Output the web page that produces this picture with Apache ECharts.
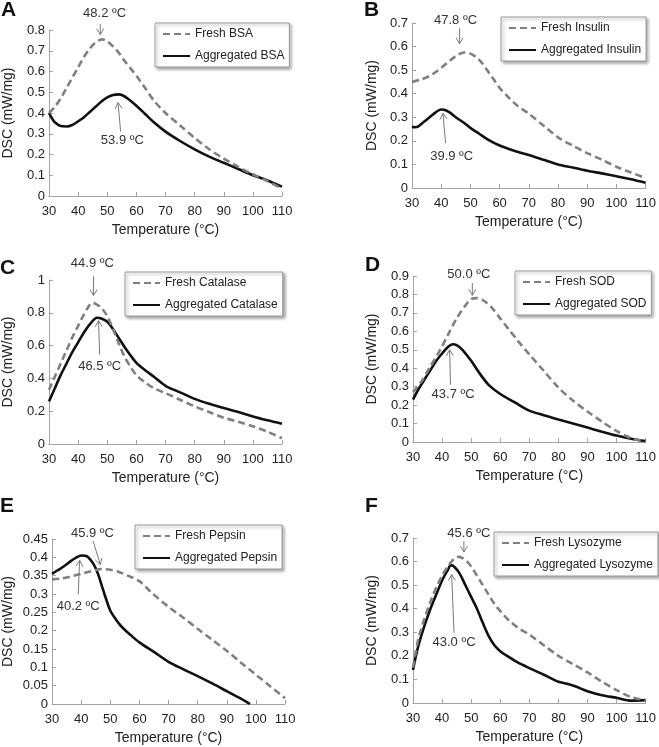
<!DOCTYPE html>
<html>
<head>
<meta charset="utf-8">
<script src="https://cdn.jsdelivr.net/npm/echarts@6/dist/echarts.min.js"></script>
<style>
html,body{margin:0;padding:0;background:#fff;}
#chart{width:659px;height:747px;}
</style>
</head>
<body>
<div id="chart"></div>
<script>
// ---------- DATA ----------
const panelLetters = ['A', 'B', 'C', 'D', 'E', 'F'];
const xTicks = [30, 40, 50, 60, 70, 80, 90, 100, 110];
const yMaxes = [0.8, 0.7, 1.0, 0.9, 0.45, 0.7];
const yIntervals = [0.1, 0.1, 0.2, 0.1, 0.05, 0.1];

// A: BSA
const bsaFreshT = [30,32,34,36,38,40,42,44,46,48.2,50,52,54,56,58,60,63,66,70,75,80,85,90,95,100,105,110];
const bsaFreshV = [0.40,0.43,0.47,0.52,0.57,0.62,0.67,0.71,0.74,0.755,0.745,0.72,0.69,0.65,0.615,0.58,0.52,0.46,0.40,0.34,0.28,0.225,0.18,0.14,0.105,0.072,0.035];
const bsaAggT = [30,31,32,34,36,38,40,42,44,46,48,50,52,53.9,55,57,60,63,66,70,75,80,85,90,95,100,105,110];
const bsaAggV = [0.40,0.375,0.355,0.337,0.335,0.342,0.36,0.38,0.405,0.43,0.455,0.475,0.487,0.49,0.487,0.47,0.435,0.395,0.355,0.31,0.265,0.225,0.19,0.16,0.13,0.10,0.075,0.045];

// B: Insulin
const insFreshT = [30,33,36,39,42,45,47.8,50,52,54,56,58,60,63,66,70,75,80,85,90,95,100,105,110];
const insFreshV = [0.45,0.46,0.475,0.50,0.53,0.56,0.575,0.57,0.555,0.53,0.495,0.46,0.425,0.385,0.35,0.315,0.265,0.215,0.18,0.148,0.12,0.09,0.066,0.042];
const insAggT = [30,31,32,34,36,38,39.9,41,43,45,48,50,53,56,60,65,70,75,80,85,90,95,100,105,110];
const insAggV = [0.26,0.258,0.26,0.28,0.30,0.32,0.333,0.332,0.32,0.30,0.275,0.255,0.23,0.205,0.18,0.158,0.14,0.12,0.10,0.087,0.073,0.062,0.05,0.037,0.022];

// C: Catalase
const catFreshT = [30,32,34,36,38,40,42,44.9,46,48,50,52,54,56,58,60,63,66,70,75,80,85,90,95,100,105,110];
const catFreshV = [0.33,0.41,0.49,0.57,0.65,0.72,0.79,0.86,0.855,0.83,0.78,0.70,0.61,0.53,0.47,0.42,0.375,0.34,0.31,0.27,0.23,0.195,0.16,0.135,0.108,0.075,0.035];
const catAggT = [30,32,34,36,38,40,42,44,46.5,48,50,52,54,56,58,60,63,66,70,75,80,85,90,95,100,105,110];
const catAggV = [0.26,0.34,0.42,0.49,0.56,0.62,0.68,0.73,0.77,0.765,0.745,0.70,0.645,0.59,0.54,0.495,0.45,0.41,0.355,0.315,0.275,0.245,0.22,0.195,0.168,0.145,0.124];

// D: SOD
const sodFreshT = [30,33,36,39,42,45,48,50,52,54,57,60,63,66,70,75,80,85,90,95,100,103,106,110];
const sodFreshV = [0.27,0.33,0.41,0.49,0.58,0.67,0.74,0.775,0.78,0.77,0.73,0.67,0.61,0.55,0.475,0.385,0.295,0.225,0.165,0.11,0.06,0.035,0.015,0.005];
const sodAggT = [30,32,34,36,38,40,42,43.7,45,47,50,53,56,60,65,70,75,80,85,90,95,100,105,110];
const sodAggV = [0.23,0.29,0.34,0.39,0.44,0.48,0.515,0.53,0.525,0.50,0.44,0.37,0.31,0.26,0.215,0.17,0.145,0.122,0.10,0.078,0.056,0.035,0.018,0.005];

// E: Pepsin
const pepFreshT = [30,33,36,40,44,47,50,53,56,60,64,70,75,80,85,90,95,100,105,110];
const pepFreshV = [0.34,0.342,0.347,0.355,0.363,0.368,0.366,0.36,0.35,0.335,0.305,0.265,0.236,0.205,0.175,0.145,0.112,0.08,0.048,0.016];
const pepAggT = [30,32,34,36,38,40.2,42,43,44,45,46,47,48,50,52,54,57,60,65,70,75,80,85,90,95,98];
const pepAggV = [0.355,0.365,0.375,0.387,0.398,0.405,0.403,0.395,0.385,0.37,0.35,0.325,0.30,0.255,0.23,0.21,0.188,0.168,0.142,0.115,0.095,0.076,0.056,0.035,0.014,0.0];

// F: Lysozyme
const lysFreshT = [30,31,32,34,36,38,40,42,44,45.6,47,49,51,53,55,58,60,63,66,70,75,80,85,90,95,100,105,110];
const lysFreshV = [0.15,0.22,0.28,0.36,0.43,0.49,0.54,0.58,0.61,0.62,0.615,0.595,0.56,0.52,0.48,0.42,0.39,0.35,0.32,0.29,0.245,0.20,0.165,0.13,0.09,0.055,0.025,0.012];
const lysAggT = [30,31,32,34,36,38,40,42,43,44,46,48,50,52,54,56,58,60,63,66,70,75,80,83,86,90,95,100,105,110];
const lysAggV = [0.14,0.20,0.25,0.33,0.40,0.46,0.52,0.565,0.585,0.58,0.55,0.50,0.45,0.40,0.34,0.285,0.245,0.22,0.195,0.172,0.148,0.12,0.09,0.082,0.07,0.05,0.033,0.022,0.01,0.012];

const seriesNames = [
  ['Fresh BSA', 'Aggregated BSA'],
  ['Fresh Insulin', 'Aggregated Insulin'],
  ['Fresh Catalase', 'Aggregated Catalase'],
  ['Fresh SOD', 'Aggregated SOD'],
  ['Fresh Pepsin', 'Aggregated Pepsin'],
  ['Fresh Lysozyme', 'Aggregated Lysozyme']
];
const seriesData = [
  [[bsaFreshT, bsaFreshV], [bsaAggT, bsaAggV]],
  [[insFreshT, insFreshV], [insAggT, insAggV]],
  [[catFreshT, catFreshV], [catAggT, catAggV]],
  [[sodFreshT, sodFreshV], [sodAggT, sodAggV]],
  [[pepFreshT, pepFreshV], [pepAggT, pepAggV]],
  [[lysFreshT, lysFreshV], [lysAggT, lysAggV]]
];

// Peak annotations (data coordinates): panel, label, label pos, arrow from, arrow to
const annotations = [
  [0, '48.2 ºC', 49.1, 0.880, 47.6, 0.829, 47.6, 0.778],
  [0, '53.9 ºC', 55.2, 0.270, 54.6, 0.310, 53.7, 0.450],
  [1, '47.8 ºC', 44.9, 0.710, 46.3, 0.678, 46.3, 0.612],
  [1, '39.9 ºC', 43.6, 0.133, 41.5, 0.190, 40.6, 0.317],
  [2, '44.9 ºC', 44.9, 1.104, 45.3, 1.023, 45.3, 0.905],
  [2, '46.5 ºC', 47.4, 0.474, 47.4, 0.545, 47.0, 0.752],
  [3, '50.0 ºC', 49.2, 0.907, 50.4, 0.862, 50.4, 0.795],
  [3, '43.7 ºC', 43.8, 0.257, 42.9, 0.311, 42.6, 0.500],
  [4, '45.9 ºC', 43.9, 0.466, 44.1, 0.445, 46.6, 0.380],
  [4, '40.2 ºC', 39.0, 0.267, 39.0, 0.299, 39.5, 0.392],
  [5, '45.6 ºC', 49.2, 0.720, 47.5, 0.687, 47.5, 0.640],
  [5, '43.0 ºC', 44.1, 0.256, 44.1, 0.298, 43.3, 0.545]
];

// ---------- LAYOUT / STYLE ----------
const FONT = '"Liberation Sans", Arial, sans-serif';
const gridRects = [
  {left: 48, top: 30, width: 234, height: 166},
  {left: 412, top: 23, width: 234, height: 165},
  {left: 48, top: 280, width: 234, height: 164},
  {left: 413, top: 276, width: 233, height: 166},
  {left: 51, top: 539, width: 234, height: 165},
  {left: 413, top: 538, width: 233, height: 165}
];
const yNameGaps = [34, 33, 34, 34, 37, 34];
const legendPos = [
  {left: 155, top: 23}, {left: 501, top: 17}, {left: 125, top: 272},
  {left: 515, top: 271}, {left: 135, top: 525}, {left: 494, top: 532}
];
const letterPos = [
  {left: 1, top: 0}, {left: 364, top: 0}, {left: 0, top: 258},
  {left: 365, top: 255}, {left: 0, top: 496}, {left: 365, top: 496}
];

const axisLineColor = '#a3a3a3';
const textColor = '#222';

const option = {
  animation: false,
  backgroundColor: '#fff',
  title: panelLetters.map((l, i) => ({
    text: l, left: letterPos[i].left, top: letterPos[i].top, padding: 0,
    textStyle: {fontFamily: FONT, fontSize: 21, fontWeight: 'bold', color: '#111'}
  })),
  grid: gridRects.map(r => Object.assign({containLabel: false}, r)),
  xAxis: gridRects.map((r, i) => ({
    type: 'value', gridIndex: i, min: xTicks[0], max: xTicks[xTicks.length - 1], interval: 10,
    name: 'Temperature (°C)', nameLocation: 'middle', nameGap: 27,
    nameTextStyle: {fontFamily: FONT, fontSize: 14, color: textColor},
    axisLine: {show: true, lineStyle: {color: axisLineColor, width: 1}},
    axisTick: {show: true, inside: true, length: 4, lineStyle: {color: axisLineColor}},
    axisLabel: {fontFamily: FONT, fontSize: 13, color: textColor, margin: 9},
    splitLine: {show: false}
  })),
  yAxis: gridRects.map((r, i) => ({
    type: 'value', gridIndex: i, min: 0, max: yMaxes[i], interval: yIntervals[i],
    name: 'DSC (mW/mg)', nameLocation: 'middle', nameGap: yNameGaps[i],
    nameTextStyle: {fontFamily: FONT, fontSize: 14, color: textColor},
    axisLine: {show: true, lineStyle: {color: axisLineColor, width: 1}},
    axisTick: {show: true, inside: true, length: 4, lineStyle: {color: axisLineColor}},
    axisLabel: {fontFamily: FONT, fontSize: 13, color: textColor, margin: 4},
    splitLine: {show: false}
  })),
  legend: seriesNames.map((names, i) => ({
    data: names, orient: 'vertical', left: legendPos[i].left, top: legendPos[i].top,
    itemWidth: 27, itemHeight: 12, itemGap: 10, padding: [5, 5, 5, 7],
    backgroundColor: '#fff', borderColor: '#9a9a9a', borderWidth: 1,
    shadowBlur: 3, shadowColor: 'rgba(0,0,0,0.35)', shadowOffsetX: 2, shadowOffsetY: 2,
    itemStyle: {opacity: 0, borderWidth: 0},
    textStyle: {fontFamily: FONT, fontSize: 12, color: textColor},
    selectedMode: false
  })),
  series: []
};

seriesData.forEach((pair, i) => {
  pair.forEach((tv, k) => {
    const pts = tv[0].map((t, j) => [t, tv[1][j]]);
    option.series.push({
      type: 'line', name: seriesNames[i][k], xAxisIndex: i, yAxisIndex: i,
      data: pts, showSymbol: false, symbol: 'none', smooth: 0.3,
      lineStyle: k === 0
        ? {color: '#808080', width: 2.6, type: [7, 4]}
        : {color: '#111', width: 2.6, type: 'solid'},
      itemStyle: {color: k === 0 ? '#808080' : '#111'},
      z: k === 0 ? 3 : 2
    });
  });
});

const chart = echarts.init(document.getElementById('chart'), null, {renderer: 'canvas'});
chart.setOption(option);

// Annotations placed through the grid scales
const graphics = [];
annotations.forEach(a => {
  const gi = a[0];
  const tp = chart.convertToPixel({gridIndex: gi}, [a[2], a[3]]);
  const p1 = chart.convertToPixel({gridIndex: gi}, [a[4], a[5]]);
  const p2 = chart.convertToPixel({gridIndex: gi}, [a[6], a[7]]);
  graphics.push({
    type: 'text', x: tp[0], y: tp[1], z: 50,
    style: {text: a[1], fill: '#333', fontFamily: FONT, fontSize: 13, align: 'center', verticalAlign: 'middle'}
  });
  graphics.push({
    type: 'line', z: 50, shape: {x1: p1[0], y1: p1[1], x2: p2[0], y2: p2[1]},
    style: {stroke: '#7a7a7a', lineWidth: 1}
  });
  const dx = p2[0] - p1[0], dy = p2[1] - p1[1];
  const len = Math.sqrt(dx * dx + dy * dy) || 1;
  const ux = dx / len, uy = dy / len, nx = -uy, ny = ux;
  const hl = 6, hw = 3.5;
  graphics.push({
    type: 'polyline', z: 50,
    shape: {points: [
      [p2[0] - ux * hl + nx * hw, p2[1] - uy * hl + ny * hw],
      [p2[0], p2[1]],
      [p2[0] - ux * hl - nx * hw, p2[1] - uy * hl - ny * hw]
    ]},
    style: {stroke: '#7a7a7a', lineWidth: 1, fill: null}
  });
});
chart.setOption({graphic: graphics});
</script>
</body>
</html>
